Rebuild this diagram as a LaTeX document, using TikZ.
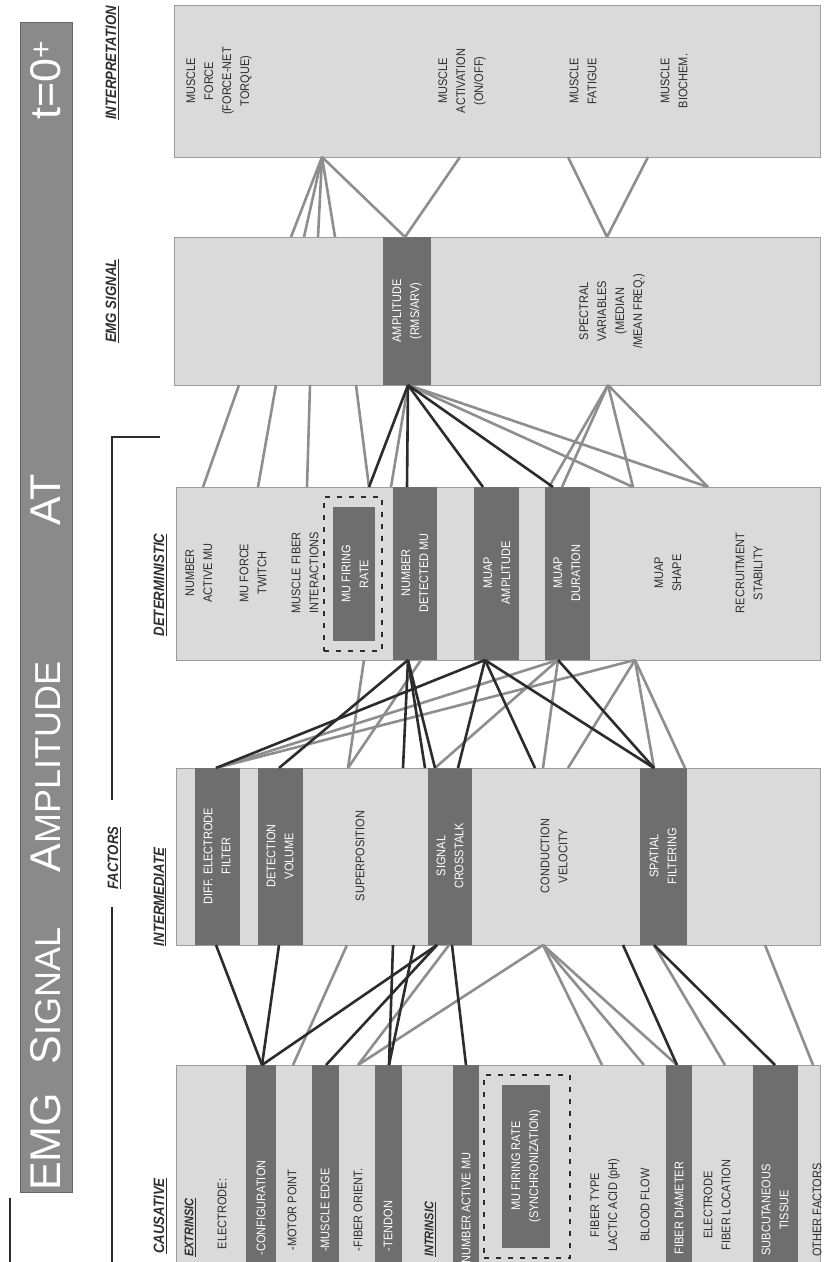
\documentclass[tikz,border=0pt]{standalone}
\usepackage{fontspec}
\setmainfont{Liberation Sans}
\newfontfamily\nar[FakeStretch=0.88]{Liberation Sans}
\definecolor{boxfill}{HTML}{DADADA}
\definecolor{boxline}{HTML}{9C9C9C}
\definecolor{bandc}{HTML}{6E6E6E}
\definecolor{dk}{HTML}{2C2C2C}
\definecolor{gln}{HTML}{8E8E8E}
\definecolor{txt}{HTML}{2E2E2E}
\definecolor{barc}{HTML}{8A8A8A}
\newcommand\rnode[6]{\node[#6, minimum width={(#3-#2)*1pt}, minimum height={(#5-#4)*1pt}] (#1) at ({(#2+#3)/2},{(#4+#5)/2}) {};}
\tikzset{
 boxst/.style={draw=boxline, line width=0.8pt, fill=boxfill, inner sep=0, outer sep=0},
 bandst/.style={fill=bandc, draw=none, inner sep=0, outer sep=0},
 barst/.style={fill=barc, draw=gray!80!black, line width=0.8pt, inner sep=0},
 lbl/.style={rotate=90, align=center, inner sep=0, text=txt, font=\nar\fontsize{12.5}{18}\selectfont},
 wlbl/.style={lbl, text=white},
 hdr/.style={rotate=90, inner sep=0, text=txt, font=\nar\bfseries\itshape\fontsize{15}{17}\selectfont},
 ttl/.style={rotate=90, inner sep=0, text=white},
 dl/.style={draw=dk, line width=2.6pt},
 gl/.style={draw=gln, line width=2.6pt},
 dsh/.style={draw=dk, line width=2.4pt, dash pattern=on 5pt off 7pt},
}
\begin{document}
\begin{tikzpicture}[x=1pt,y=-1pt]
\useasboundingbox (0,0) rectangle (823,1262);
\fill[white] (0,0) rectangle (823,1262);

% title bar
\rnode{bar}{20}{72}{22}{1192}{barst}
\node[ttl] (tEMG) at (46,1142) {\fontsize{43}{43}\selectfont EMG};
\node[ttl] (tSIG) at (46,996) {\fontsize{43}{43}\selectfont S\fontsize{36}{36}\selectfont IGNAL};
\node[ttl] (tAMP) at (46,767) {\fontsize{43}{43}\selectfont A\fontsize{36}{36}\selectfont MPLITUDE};
\node[ttl] (tAT) at (46,500) {\fontsize{43}{43}\selectfont AT};
\node[ttl] (tT) at (46,80) {\fontsize{43}{43}\selectfont t=0\textsuperscript{+}};

% headers
\node[hdr] (hInt) at (112,63) {\underline{INTERPRETATION}};
\node[hdr] (hEmg) at (112,301) {\underline{EMG SIGNAL}};
\node[hdr] (hFac) at (114,858) {\underline{FACTORS}};
\node[hdr] (hDet) at (160,585) {\underline{DETERMINISTIC}};
\node[hdr] (hInm) at (160,897) {\underline{INTERMEDIATE}};
\node[hdr] (hCau) at (160,1216) {\underline{CAUSATIVE}};
\coordinate (brT) at (160,437);
\coordinate (brA) at (112,437);
\coordinate (brB) at (112,800);
\coordinate (brC) at (112,907);
\coordinate (brD) at (112,1262);
\coordinate (lfA) at (10,1198);
\coordinate (lfB) at (10,1262);
\draw[dl] (brT) -- (brA) -- (brB);
\draw[dl] (brC) -- (brD);
\draw[dl] (lfA) -- (lfB);

% boxes
\rnode{interp}{174}{820}{5}{157}{boxst}
\rnode{emg}{174}{820}{237}{385}{boxst}
\rnode{det}{176}{820}{487}{660}{boxst}
\rnode{inter}{176}{820}{768}{945}{boxst}
\rnode{caus}{176}{820}{1065}{1300}{boxst}

% interpretation texts
\node[lbl] (iForce) at (219,81) {MUSCLE\\FORCE\\(FORCE-NET\\TORQUE)};
\node[lbl] (iAct) at (462,81) {MUSCLE\\ACTIVATION\\(ON/OFF)};
\node[lbl] (iFat) at (583,81) {MUSCLE\\FATIGUE};
\node[lbl] (iBio) at (674,81) {MUSCLE\\BIOCHEM.};

% emg signal
\rnode{ampB}{383}{431}{237}{385}{bandst}
\node[wlbl] (eAmp) at (407,311) {AMPLITUDE\\(RMS/ARV)};
\node[lbl] (eSpec) at (612,311) {SPECTRAL\\VARIABLES\\(MEDIAN\\/MEAN FREQ.)};

% deterministic
\node[lbl] (dNam) at (199,573) {NUMBER\\ACTIVE MU};
\node[lbl] (dTw) at (253,573) {MU FORCE\\TWITCH};
\node[lbl] (dInt) at (305,573) {MUSCLE FIBER\\INTERACTIONS};
\rnode{dFrB}{333}{375}{507}{641}{bandst}
\rnode{dFrD}{324}{382}{497}{651}{dsh}
\node[wlbl] (dFr) at (355,574) {MU FIRING\\RATE};
\rnode{dNdB}{393}{437}{487}{660}{bandst}
\node[wlbl] (dNd) at (415,573) {NUMBER\\DETECTED MU};
\rnode{dMaB}{474}{519}{487}{660}{bandst}
\node[wlbl] (dMa) at (497,573) {MUAP\\AMPLITUDE};
\rnode{dMdB}{545}{590}{487}{660}{bandst}
\node[wlbl] (dMd) at (567,573) {MUAP\\DURATION};
\node[lbl] (dSh) at (668,573) {MUAP\\SHAPE};
\node[lbl] (dRs) at (749,573) {RECRUITMENT\\STABILITY};

% intermediate
\rnode{nDfB}{195}{240}{768}{945}{bandst}
\node[wlbl] (nDf) at (217,856) {DIFF. ELECTRODE\\FILTER};
\rnode{nDvB}{258}{303}{768}{945}{bandst}
\node[wlbl] (nDv) at (280,856) {DETECTION\\VOLUME};
\node[lbl] (nSp) at (360,856) {SUPERPOSITION};
\rnode{nScB}{428}{472}{768}{945}{bandst}
\node[wlbl] (nSc) at (450,856) {SIGNAL\\CROSSTALK};
\node[lbl] (nCv) at (554,856) {CONDUCTION\\VELOCITY};
\rnode{nSfB}{640}{687}{768}{945}{bandst}
\node[wlbl] (nSf) at (663,856) {SPATIAL\\FILTERING};

% causative
\node[hdr, anchor=west, font=\nar\bfseries\itshape\fontsize{12.5}{14}\selectfont] (cExt) at (190,1257) {\underline{EXTRINSIC}};
\node[lbl] (cEl) at (222,1214) {ELECTRODE:};
\rnode{cCfB}{246}{276}{1065}{1300}{bandst}
\node[wlbl] (cCf) at (261,1208) {-CONFIGURATION};
\node[lbl] (cMp) at (292,1210) {-MOTOR POINT};
\rnode{cMeB}{312}{339}{1065}{1300}{bandst}
\node[wlbl] (cMe) at (325,1210) {-MUSCLE EDGE};
\node[lbl] (cFo) at (358,1210) {-FIBER ORIENT.};
\rnode{cTdB}{375}{402}{1065}{1300}{bandst}
\node[wlbl] (cTd) at (388,1226) {-TENDON};
\node[hdr, anchor=west, font=\nar\bfseries\itshape\fontsize{12.5}{14}\selectfont] (cInt) at (430,1257) {\underline{INTRINSIC}};
\rnode{cNaB}{453}{479}{1065}{1300}{bandst}
\node[wlbl] (cNa) at (466,1208) {NUMBER ACTIVE MU};
\rnode{cFrB}{502}{550}{1085}{1248}{bandst}
\rnode{cFrD}{484}{570}{1075}{1258}{dsh}
\node[wlbl] (cFr) at (526,1166) {MU FIRING RATE\\(SYNCHRONIZATION)};
\node[lbl] (cFt) at (605,1205) {FIBER TYPE\\LACTIC ACID (pH)};
\node[lbl] (cBf) at (645,1205) {BLOOD FLOW};
\rnode{cFdB}{666}{692}{1065}{1300}{bandst}
\node[wlbl] (cFd) at (679,1208) {FIBER DIAMETER};
\node[lbl] (cEf) at (717,1205) {ELECTRODE\\FIBER LOCATION};
\rnode{cStB}{753}{798}{1065}{1300}{bandst}
\node[wlbl] (cSt) at (775,1210) {SUBCUTANEOUS\\TISSUE};
\node[lbl] (cOf) at (817,1210) {OTHER FACTORS};

% ---- connectors: interpretation <-> emg signal
\coordinate (iA) at (322,157); \coordinate (iB) at (460,157);
\coordinate (iC) at (568,157); \coordinate (iD) at (648,157);
\coordinate (eA) at (291,237); \coordinate (eB) at (304,237);
\coordinate (eC) at (318,237); \coordinate (eD) at (335,237);
\coordinate (eM) at (405,237); \coordinate (eS) at (607,237);
\foreach \a/\b in {iA/eA,iA/eB,iA/eC,iA/eD,iA/eM,iB/eM,iC/eS,iD/eS} \draw[gl] (\a) -- (\b);

% ---- emg signal <-> deterministic
\coordinate (eb1) at (239,385); \coordinate (eb2) at (276,385);
\coordinate (eb3) at (310,385); \coordinate (eb4) at (356,385);
\coordinate (ebA) at (408,385); \coordinate (ebS) at (608,385);
\coordinate (dt1) at (203,487); \coordinate (dt2) at (258,487);
\coordinate (dt3) at (307,487); \coordinate (dt4) at (369,487);
\coordinate (dt5) at (391,487); \coordinate (dt6) at (407,487);
\coordinate (dt7) at (483,487); \coordinate (dt8) at (549,487);
\coordinate (dt9) at (553,487); \coordinate (dt10) at (562,487);
\coordinate (dt11) at (633,487); \coordinate (dt12) at (708,487);
\foreach \a/\b in {eb1/dt1,eb2/dt2,eb3/dt3,eb4/dt4,ebA/dt5,ebA/dt11,ebA/dt12,ebS/dt8,ebS/dt10,ebS/dt11,ebS/dt12} \draw[gl] (\a) -- (\b);
\foreach \a/\b in {ebA/dt4,ebA/dt6,ebA/dt7,ebA/dt9} \draw[dl] (\a) -- (\b);

% ---- deterministic <-> intermediate
\coordinate (db1) at (364,660); \coordinate (db2) at (408,660);
\coordinate (db3) at (421,660); \coordinate (db4) at (485,660);
\coordinate (db5) at (558,660); \coordinate (db6) at (635,660);
\coordinate (it1) at (216,768); \coordinate (it2) at (279,768);
\coordinate (it3) at (348,768); \coordinate (it4) at (403,768);
\coordinate (it5) at (425,768); \coordinate (it6) at (435,768);
\coordinate (it7) at (458,768); \coordinate (it8) at (535,768);
\coordinate (it9) at (543,768); \coordinate (it10) at (568,768);
\coordinate (it11) at (654,768); \coordinate (it12) at (685,768);
\foreach \a/\b in {db1/it3,db3/it3,db5/it1,db6/it1,db5/it6,db5/it9,db6/it10,db6/it11,db6/it12} \draw[gl] (\a) -- (\b);
\foreach \a/\b in {db2/it2,db2/it4,db2/it5,db2/it6,db4/it1,db4/it7,db4/it8,db4/it11,db5/it11} \draw[dl] (\a) -- (\b);

% ---- intermediate <-> causative
\coordinate (ib1) at (216,945); \coordinate (ib2) at (279,945);
\coordinate (ib3) at (347,945); \coordinate (ib4) at (393,945);
\coordinate (ib5) at (414,945); \coordinate (ib6) at (437,945);
\coordinate (ib7) at (449,945); \coordinate (ib8) at (452,945);
\coordinate (ib9) at (543,945); \coordinate (ib10) at (623,945);
\coordinate (ib11) at (654,945); \coordinate (ib12) at (765,945);
\coordinate (ct1) at (262,1065); \coordinate (ct2) at (293,1065);
\coordinate (ct3) at (326,1065); \coordinate (ct4) at (358,1065);
\coordinate (ct5) at (389,1065); \coordinate (ct6) at (466,1065);
\coordinate (ct7) at (602,1065); \coordinate (ct8) at (644,1065);
\coordinate (ct9) at (677,1065); \coordinate (ct10) at (725,1065);
\coordinate (ct11) at (775,1065); \coordinate (ct12) at (813,1065);
\foreach \a/\b in {ib3/ct2,ib7/ct4,ib9/ct4,ib9/ct7,ib9/ct8,ib9/ct9,ib11/ct10,ib12/ct12} \draw[gl] (\a) -- (\b);
\foreach \a/\b in {ib1/ct1,ib2/ct1,ib4/ct5,ib5/ct5,ib6/ct1,ib6/ct3,ib8/ct6,ib10/ct9,ib11/ct11} \draw[dl] (\a) -- (\b);
\end{tikzpicture}
\end{document}
